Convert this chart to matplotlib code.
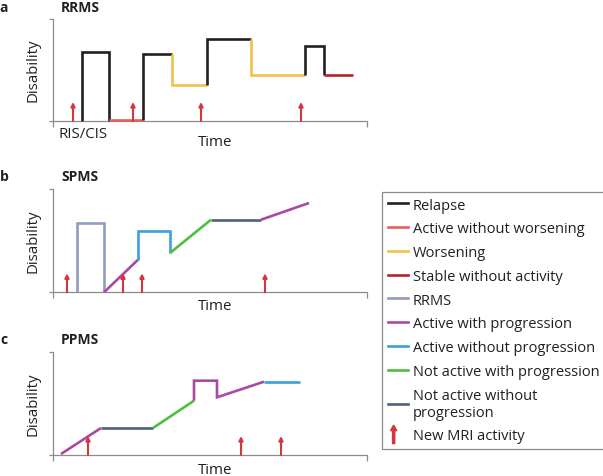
import matplotlib
matplotlib.use("Agg")
import matplotlib.pyplot as plt
from matplotlib.lines import Line2D
from matplotlib.patches import FancyArrow
from matplotlib.legend_handler import HandlerPatch

plt.rcParams['font.family'] = ['Open Sans', 'DejaVu Sans']

# colours for each disease-course category
colors = {
    'Relapse': '#231f20',
    'Active without worsening': '#e5615c',
    'Worsening': '#f0c24a',
    'Stable without activity': '#b3232b',
    'RRMS': '#8f9cbf',
    'Active with progression': '#a84aa2',
    'Active without progression': '#3d9fdc',
    'Not active with progression': '#4cbf3e',
    'Not active without progression': '#4f6082',
}
arrow_color = '#d2363e'
axis_color = '#8c8c8c'
text_color = '#231f20'

# panel a: RRMS  (category, time, disability)
rrms_segments = [
    ('Relapse', [29, 29, 56, 56], [0, 69, 69, 0]),
    ('Active without worsening', [56, 90], [1.5, 1.5]),
    ('Relapse', [90, 90, 119], [1.5, 67, 67]),
    ('Worsening', [119, 119, 154], [67, 36, 36]),
    ('Relapse', [154, 154, 198], [36, 82, 82]),
    ('Worsening', [198, 198, 252], [82, 46, 46]),
    ('Relapse', [252, 252, 271, 271], [46, 75, 75, 46]),
    ('Stable without activity', [271, 300], [46, 46]),
]
rrms_mri = [20, 80, 148, 248]

# panel b: SPMS
spms_segments = [
    ('RRMS', [24, 24, 51, 51], [0, 69, 69, 0]),
    ('Active with progression', [51, 85], [0, 32.6]),
    ('Active without progression', [85, 85, 117, 117], [32.6, 61, 61, 39.3]),
    ('Not active with progression', [117, 158], [39.3, 72.6]),
    ('Not active without progression', [158, 208], [72.6, 72.6]),
    ('Active with progression', [208, 256], [72.6, 89.3]),
]
spms_mri = [14, 70, 89, 212]

# panel c: PPMS
ppms_segments = [
    ('Active with progression', [8, 48], [1, 27]),
    ('Not active without progression', [48, 100], [27, 27]),
    ('Not active with progression', [100, 141], [27, 54.3]),
    ('Active with progression', [141, 141, 164, 164, 211], [54.3, 74.3, 74.3, 57.7, 73.3]),
    ('Active without progression', [211, 247], [73.3, 73.3]),
]
ppms_mri = [35, 188, 228]

mri_height = 19
panels = [
    ('a', 'RRMS', rrms_segments, rrms_mri, 122, 102),
    ('b', 'SPMS', spms_segments, spms_mri, 293.3, 103),
    ('c', 'PPMS', ppms_segments, ppms_mri, 456, 102.7),
]

W, H = 603, 477
fig = plt.figure(figsize=(W / 100, H / 100), dpi=100)


def fx(px):
    return px / W


def fy(py):
    return 1 - py / H


x0, xlen = 53, 314
title_y = {'a': 8, 'b': 177, 'c': 340}
time_y = {'a': 142, 'b': 307, 'c': 471}
for letter, title, segments, mri, base, height in panels:
    ax = fig.add_axes([fx(x0), fy(base), xlen / W, height / H])
    ax.set_xlim(0, xlen)
    ax.set_ylim(0, height)
    ax.set_axis_off()
    # axes drawn by hand to get the small corner ticks
    kw = dict(color=axis_color, lw=0.9, clip_on=False, solid_capstyle='butt')
    ax.plot([-4, 0, 0], [height, height, -6], **kw)
    ax.plot([-4, xlen, xlen], [0, 0, -6], **kw)
    for cat, xs, ys in segments:
        ax.plot(xs, ys, color=colors[cat], lw=1.9, solid_joinstyle='miter',
                solid_capstyle='butt', clip_on=False)
    for t in mri:
        ax.annotate('', xy=(t, mri_height), xytext=(t, 0),
                    arrowprops=dict(arrowstyle='-|>', color=arrow_color, lw=1.5,
                                    mutation_scale=6, shrinkA=0, shrinkB=0))
    fig.text(fx(4), fy(title_y[letter]), letter,
             fontsize=10, fontweight='bold', ha='center', va='center', color=text_color)
    fig.text(fx(61), fy(title_y[letter]), title,
             fontsize=10, fontweight='bold', ha='left', va='center', color=text_color)
    fig.text(fx(33), fy(base - 52), 'Disability', rotation=90, fontsize=10.8,
             ha='center', va='center', color=text_color)
    fig.text(fx(215), fy(time_y[letter]), 'Time', fontsize=10.8,
             ha='center', va='center', color=text_color)

fig.text(fx(59), fy(135), 'RIS/CIS', fontsize=10.8, ha='left', va='center',
         color=text_color)


# legend
def make_arrow(legend, orig_handle, xdescent, ydescent, width, height, fontsize):
    return FancyArrow(width / 2 - 3, -ydescent - 3, 0, height + 6, width=1.6,
                      head_width=4.5, head_length=4, length_includes_head=True,
                      color=arrow_color)


legend_labels = list(colors.keys())
handles = [Line2D([], [], color=colors[k], lw=1.9) for k in legend_labels]
texts = [k if k != 'Not active without progression' else 'Not active without\nprogression'
         for k in legend_labels]
handles.append(FancyArrow(0, 0, 0, 1, color=arrow_color))
texts.append('New MRI activity')
leg = fig.legend(handles, texts, loc='upper left', bbox_to_anchor=(fx(382), fy(192.7)),
                 borderaxespad=0, fontsize=10.5, handlelength=1.37, handletextpad=0.34,
                 labelspacing=0.6, borderpad=0.4, fancybox=False, edgecolor=axis_color,
                 framealpha=1, handler_map={FancyArrow: HandlerPatch(patch_func=make_arrow)})
leg.get_frame().set_linewidth(0.9)
for t in leg.get_texts():
    t.set_color(text_color)
    t.set_linespacing(1.2)

fig.savefig('out.png', dpi=100)
